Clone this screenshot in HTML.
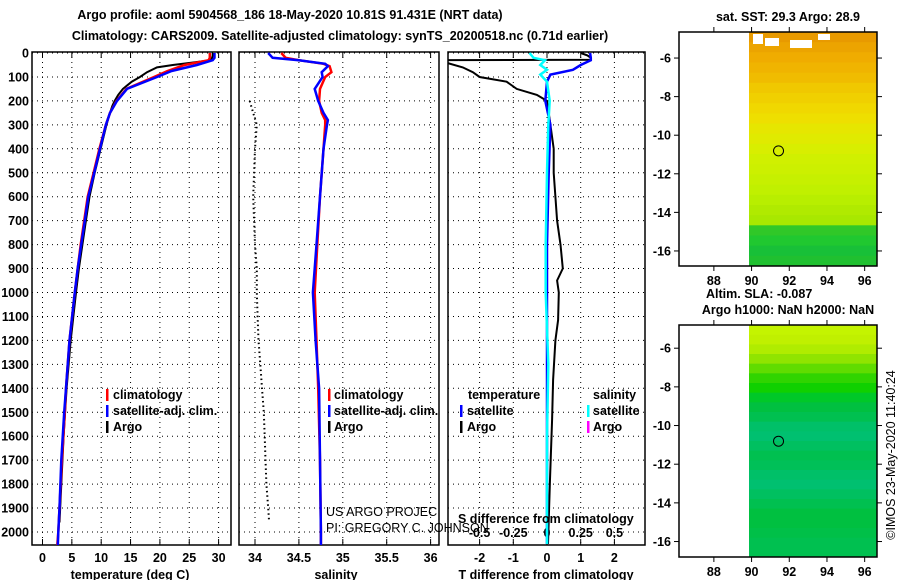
<!DOCTYPE html>
<html><head><meta charset="utf-8"><style>
body{margin:0;background:#fff}
svg{display:block;font-family:"Liberation Sans",sans-serif}
.t{font-size:12.5px;font-weight:bold}
.n{font-size:12.5px}
</style></head><body>
<svg id="c" width="900" height="580" viewBox="0 0 900 580">
<defs>
<clipPath id="cp1"><rect x="32" y="52" width="199" height="493"/></clipPath>
<clipPath id="cp2"><rect x="239" y="52" width="200" height="493"/></clipPath>
<clipPath id="cp3"><rect x="448" y="52" width="197" height="493"/></clipPath>
</defs>
<text class="t" x="290" y="19" text-anchor="middle">Argo profile: aoml 5904568_186 18-May-2020 10.81S 91.431E (NRT data)</text>
<text class="t" x="340" y="40" text-anchor="middle">Climatology: CARS2009. Satellite-adjusted climatology: synTS_20200518.nc (0.71d earlier)</text>
<g id="g"></g>
</svg>
<script>
// depth (m)
const depthsT=[0,20,30,50,75,100,150,200,250,300,400,500,600,700,800,900,1000,1200,1400,1500,1700,1900,2000,2060];
const tempClim=[28.5,28.5,28.3,24.2,21.3,19.0,14.3,12.6,11.5,10.8,9.7,8.7,7.7,7.1,6.5,6.0,5.5,4.6,4.0,3.8,3.3,2.9,2.7,2.5];
const tempSat=[29.3,29.3,29.0,26.3,22.0,19.5,14.4,12.7,11.5,10.8,9.8,8.8,7.8,7.2,6.6,6.0,5.5,4.6,4.0,3.7,3.2,2.9,2.7,2.6];
const depthsArgo=[0,10,20,30,40,50,60,80,100,120,150,175,200,220,250,300,400,500,600,700,800,900,1000,1200,1400,1600,1800,1960];
const tempArgo=[29.0,29.0,28.9,28.6,25.5,22.2,19.5,17.8,16.6,15.2,13.7,12.9,12.3,11.9,11.5,10.9,9.9,8.9,8.0,7.4,6.8,6.2,5.7,4.8,4.1,3.6,3.2,2.9];
const depthsS=[0,20,30,45,55,80,100,150,200,250,280,300,400,600,800,1000,1200,1400,1700,2000,2060];
const salClim=[34.3,34.35,34.5,34.78,34.85,34.87,34.8,34.74,34.73,34.76,34.8,34.8,34.78,34.74,34.71,34.68,34.7,34.72,34.74,34.75,34.75];
const salSat=[34.15,34.2,34.5,34.8,34.83,34.76,34.77,34.68,34.72,34.78,34.83,34.82,34.78,34.74,34.7,34.66,34.69,34.73,34.74,34.75,34.75];
const depthsSA=[200,250,300,400,500,600,700,800,900,1000,1100,1200,1300,1400,1500,1600,1700,1800,1900,1950];
const salArgo=[33.94,33.98,34.02,34.0,33.99,33.98,33.99,34.0,34.02,34.02,34.03,34.04,34.06,34.08,34.1,34.11,34.12,34.13,34.15,34.16];
const depthsD=[0,10,20,28,30,33,40,60,80,100,120,150,175,200,250,300,400,500,600,700,800,900,950,1000,1115,1200,1365,1530,1780,2050];
const tDiffArgo=[1.0,1.2,1.3,1.3,-3.5,-3.5,-3.0,-2.5,-2.2,-2.0,-1.2,-0.9,-0.3,0.0,0.05,0.1,0.2,0.2,0.25,0.3,0.4,0.47,0.3,0.35,0.33,0.25,0.18,0.15,0.09,0.03];
const depthsDS=[0,20,30,50,70,90,120,200,300,500,800,1000,1300,1600,2050];
const tDiffSat=[1.28,1.3,1.3,1.0,0.77,0.1,0.0,-0.05,0.1,0.05,0.0,0.0,0.0,0.0,0.0];
const sDiffSat=[-0.13,-0.1,-0.015,-0.05,0.0,-0.05,0.0,0.02,0.01,0.0,-0.01,-0.01,0.01,0.0,0.0];
const depthTicks=[0,100,200,300,400,500,600,700,800,900,1000,1100,1200,1300,1400,1500,1600,1700,1800,1900,2000];
const tTicks=[0,5,10,15,20,25,30];
const sTicks=[34,34.5,35,35.5,36];
const dTicks=[-2,-1,0,1,2];
const sdTicks=[-0.5,-0.25,0,0.25,0.5];
const latTicks=[-6,-8,-10,-12,-14,-16];
const lonTicks=[88,90,92,94,96];
const sstBands=['#e89a00','#eca400','#f0ac00','#f0b400','#f0bc00','#f0c800','#f0d000','#f0d800','#eedf00','#e6e600','#e0ea00','#d8ee00','#d0f000','#ccf000','#c6f000','#c0f000','#b8ee00','#b0ea00','#a8e800','#30c828','#20c830','#18c038','#20c030'];
const slaBands=['#c4f400','#c0f000','#b0ec00','#90e400','#60dc00','#30d400','#10d000','#00c828','#00c040','#00c050','#00c068','#00c070','#00c060','#00c050','#00c058','#00c068','#00c070','#00c060','#00c050','#00c040','#00c040','#00c048','#00c050','#00c050'];
const floatLat=-10.81, floatLon=91.43;

const NS='http://www.w3.org/2000/svg';
const G=document.getElementById('g');
function el(tag,attrs,parent){const e=document.createElementNS(NS,tag);for(const k in attrs)e.setAttribute(k,attrs[k]);(parent||G).appendChild(e);return e;}
const yD=d=>53+d*0.2395;
const xT=v=>42.5+v*5.87, xS=v=>255+(v-34)*87.8, xD=v=>547+v*33.7, xSD=v=>547+v*134.8;
function path(xs,ds,fx,color,w,clip,name,dash){
  let p='';for(let i=0;i<xs.length;i++)p+=(i?'L':'M')+fx(xs[i]).toFixed(1)+','+yD(ds[i]).toFixed(1);
  const e=el('path',{d:p,fill:'none',stroke:color,'stroke-width':w,'clip-path':'url(#'+clip+')'});
  if(dash)e.setAttribute('stroke-dasharray',dash);
  
  
}
function panel(x0,x1,ticks,fx,labels,name,showDepth){
  const g=el('g',{});
  
  
  depthTicks.forEach(d=>{el('line',{x1:x0,x2:x1,y1:yD(d),y2:yD(d),stroke:'#000','stroke-width':1,'stroke-dasharray':'1,4'},g);});
  ticks.forEach(v=>{const x=fx(v);el('line',{x1:x,x2:x,y1:52,y2:545,stroke:'#000','stroke-width':1,'stroke-dasharray':'1,4'},g);
    el('line',{x1:x,x2:x,y1:545,y2:539,stroke:'#000'},g);el('line',{x1:x,x2:x,y1:52,y2:58,stroke:'#000'},g);
    if(labels){const t=el('text',{x:x,y:562,'text-anchor':'middle',class:'t'},g);t.textContent=String(v);}});
  el('rect',{x:x0,y:52,width:x1-x0,height:493,fill:'none',stroke:'#000','stroke-width':1.5},g);
  if(showDepth)depthTicks.forEach(d=>{const t=el('text',{x:29,y:yD(d)+4.5,'text-anchor':'end',class:'t'},g);t.textContent=d;});
}
panel(32,231,tTicks,xT,true,'temperature-panel',true);
panel(239,439,sTicks,xS,true,'salinity-panel',false);
panel(448,645,dTicks,xD,true,'difference-panel',false);
sdTicks.forEach(v=>{const t=el('text',{x:xSD(v),y:537,'text-anchor':'middle',class:'t'});t.textContent=String(v);
  });

path(tempArgo,depthsArgo,xT,'#000',2,'cp1','temp-argo-line');
path(tempClim,depthsT,xT,'#f00',2.5,'cp1','temp-climatology-line');
path(tempSat,depthsT,xT,'#00f',2.5,'cp1','temp-satellite-line');
path(salArgo,depthsSA,xS,'#000',2,'cp2','salinity-argo-line','1.5,3');
path(salClim,depthsS,xS,'#f00',2.5,'cp2','salinity-climatology-line');
path(salSat,depthsS,xS,'#00f',2.5,'cp2','salinity-satellite-line');
path(tDiffArgo,depthsD,xD,'#000',2,'cp3','t-diff-argo-line');
path(tDiffSat,depthsDS,xD,'#00f',2.5,'cp3','t-diff-satellite-line');
path(sDiffSat,depthsDS,xSD,'#0ff',2.5,'cp3','s-diff-satellite-line');

function txt(s,x,y,cls,name,anchor){const t=el('text',{x:x,y:y,class:cls});if(anchor)t.setAttribute('text-anchor',anchor);t.textContent=s;
  return t;}
function mark(x,y,c){el('rect',{x:x,y:y-10,width:2.5,height:12,fill:c});}
mark(106,399,'#f00');txt('climatology',113,399,'t','legend-climatology');
mark(106,415,'#00f');txt('satellite-adj. clim.',113,415,'t','legend-satellite');
mark(106,431,'#000');txt('Argo',113,431,'t','legend-argo');
mark(328,399,'#f00');txt('climatology',334,399,'t','legend-sal-climatology');
mark(328,415,'#00f');txt('satellite-adj. clim.',334,415,'t','legend-sal-satellite');
mark(328,431,'#000');txt('Argo',334,431,'t','legend-sal-argo');
txt('temperature',468,399,'t','legend-temperature-heading');
mark(460,415,'#00f');txt('satellite',467,415,'t','legend-t-satellite');
mark(460,431,'#000');txt('Argo',467,431,'t','legend-t-argo');
txt('salinity',593,399,'t','legend-salinity-heading');
mark(587,415,'#0ff');txt('satellite',593,415,'t','legend-s-satellite');
mark(587,431,'#f0f');txt('Argo',593,431,'t','legend-s-argo');
txt('US ARGO PROJEC',326,516,'n','project-label');
txt('PI: GREGORY C. JOHNSON',326,532,'n','pi-label');
txt('S difference from climatology',458,523,'t','s-diff-axis-title');
txt('temperature (deg C)',130,579,'t','x-axis-title-temperature','middle');
txt('salinity',336,579,'t','x-axis-title-salinity','middle');
txt('T difference from climatology',546,579,'t','x-axis-title-tdiff','middle');

function map(top,bottom,lat0,lat1,bands,name){
  const yL=l=>top+(lat0-l)*(bottom-top)/(lat0-lat1);
  const xL=l=>679+(l-86.15)*18.85;
  const g=el('g',{});
  const bh=(bottom-top)/bands.length;
  bands.forEach((c,i)=>{el('rect',{x:749,y:top+i*bh,width:128,height:bh+0.5,fill:c},g);});
  el('circle',{cx:xL(floatLon),cy:yL(floatLat),r:5,fill:'none',stroke:'#000'},g);
  el('rect',{x:679,y:top,width:198,height:bottom-top,fill:'none',stroke:'#000','stroke-width':1.5},g);
  latTicks.forEach(l=>{const y=yL(l);el('line',{x1:877,x2:882,y1:y,y2:y,stroke:'#000'},g);el('line',{x1:679,x2:674,y1:y,y2:y,stroke:'#000'},g);
    const t=el('text',{x:671,y:y+4.5,'text-anchor':'end',class:'t'},g);t.textContent=l;});
  lonTicks.forEach(l=>{const x=xL(l);el('line',{x1:x,x2:x,y1:top,y2:top-5,stroke:'#000'},g);el('line',{x1:x,x2:x,y1:bottom,y2:bottom+5,stroke:'#000'},g);
    const t=el('text',{x:x,y:bottom+19,'text-anchor':'middle',class:'t'},g);t.textContent=l;});
  return g;
}
map(32,266,-4.65,-16.78,sstBands,'sst-map');
[[753,34,10,10],[765,38,14,8],[790,40,22,8],[818,34,12,6]].forEach(r=>{const e=el('rect',{x:r[0],y:r[1],width:r[2],height:r[3],fill:'#fff'});});
map(325,557,-4.8,-16.8,slaBands,'sla-map');
txt('sat. SST: 29.3 Argo: 28.9',788,21,'t','sst-map-title','middle');
txt('Altim. SLA: -0.087',706,298,'t','sla-label');
txt('Argo h1000: NaN h2000: NaN',788,314,'t','sla-map-title','middle');
const r=txt('©IMOS 23-May-2020 11:40:24',0,0,'n','imos-credit','middle');
r.setAttribute('transform','translate(895,455) rotate(-90)');
</script>
</body></html>
